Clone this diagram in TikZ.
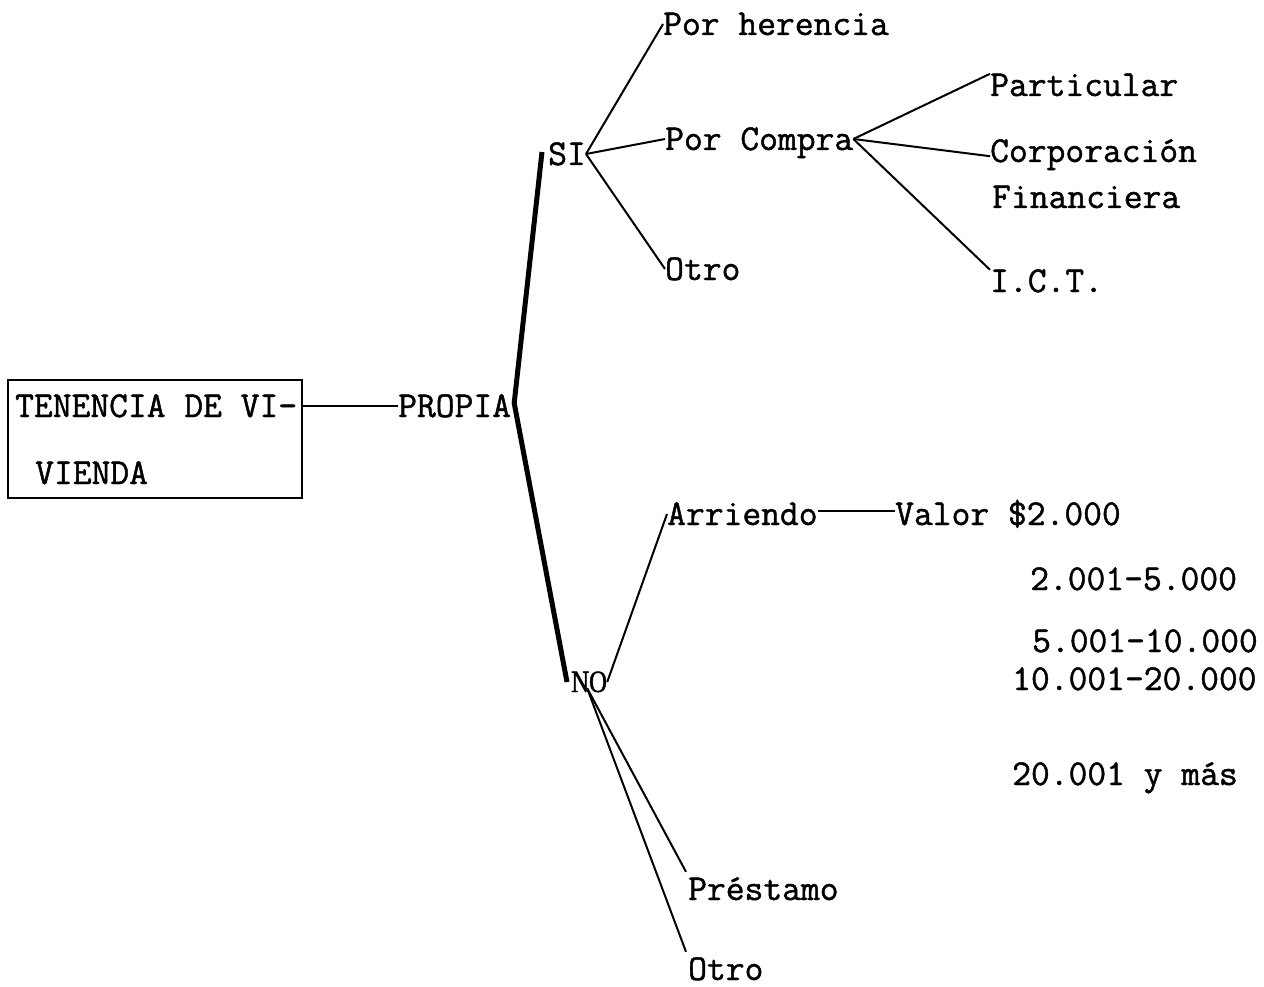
\documentclass[tikz,border=0pt]{standalone}
\usepackage{fontspec}
\newfontfamily\tw[FakeBold=1.2]{Latin Modern Mono}
\newfontfamily\nofont[FakeStretch=0.8,FakeBold=1.5]{Liberation Serif}
\begin{document}
\begin{tikzpicture}[x=1pt,y=-1pt,
  lbl/.style={anchor=base west,inner sep=0pt,text height=22pt,text depth=0pt,font=\tw\fontsize{36.5}{36.5}\selectfont},
  conn/.style={line width=2pt},
  thick line/.style={line width=5pt,line join=round}]
\useasboundingbox (0,0) rectangle (1264,987);
% box
\node[draw,line width=2.2pt,minimum width=294pt,minimum height=118pt,inner sep=0pt] (box) at (155,439) {};
\node[lbl] (t1) at (15,417) {TENENCIA DE VI-};
\node[lbl] (t2) at (35,484) {VIENDA};
\node[lbl] (propia) at (398,417) {PROPIA};
\node[lbl] (si) at (548,165) {SI};
\node[anchor=base west,inner sep=0pt,text height=20pt,text depth=0pt,font=\nofont\fontsize{31}{31}\selectfont] (no) at (571,692) {NO};
% SI branch
\node[lbl] (her) at (663,35) {Por herencia};
\node[lbl] (compra) at (665,150) {Por Compra};
\node[lbl] (otro1) at (665,280) {Otro};
\node[lbl] (part) at (990,96) {Particular};
\node[lbl] (corp) at (990,162) {Corporación};
\node[lbl] (fin) at (992,208) {Financiera};
\node[lbl] (ict) at (990,292) {I.C.T.};
% NO branch
\node[lbl] (arr) at (667,525) {Arriendo};
\node[lbl] (val) at (895,525) {Valor \$2.000};
\node[lbl] (v2) at (1030,590) {2.001-5.000};
\node[lbl] (v3) at (1032,652) {5.001-10.000};
\node[lbl] (v4) at (1012,690) {10.001-20.000};
\node[lbl] (v5) at (1012,785) {20.001 y más};
\node[lbl] (prest) at (688,900) {Préstamo};
\node[lbl] (otro2) at (688,980) {Otro};
% connectors
\draw[conn] (box.east |- propia.west) -- (propia.west);
\draw[thick line] ([xshift=-6pt,yshift=2pt]si.west) -- ([xshift=3pt,yshift=3pt]propia.east) -- ([xshift=-4pt]no.west);
\draw[conn] (si.east) -- (her.west);
\draw[conn] (si.east) -- (compra.west);
\draw[conn] (si.east) -- (otro1.west);
\draw[conn] (compra.east) -- (part.north west);
\draw[conn] (compra.east) -- ([yshift=6pt]corp.south west);
\draw[conn] (compra.east) -- (ict.north west);
\draw[conn] (no.east) -- (arr.west);
\draw[conn] ([yshift=3pt]arr.east) -- ([yshift=3pt]val.west);
\draw[conn] ([xshift=-2pt,yshift=4pt]no.south) -- ([xshift=-2pt,yshift=6pt]prest.north west);
\draw[conn] ([xshift=-2pt,yshift=4pt]no.south) -- ([xshift=-2pt,yshift=6pt]otro2.north west);
\end{tikzpicture}
\end{document}
